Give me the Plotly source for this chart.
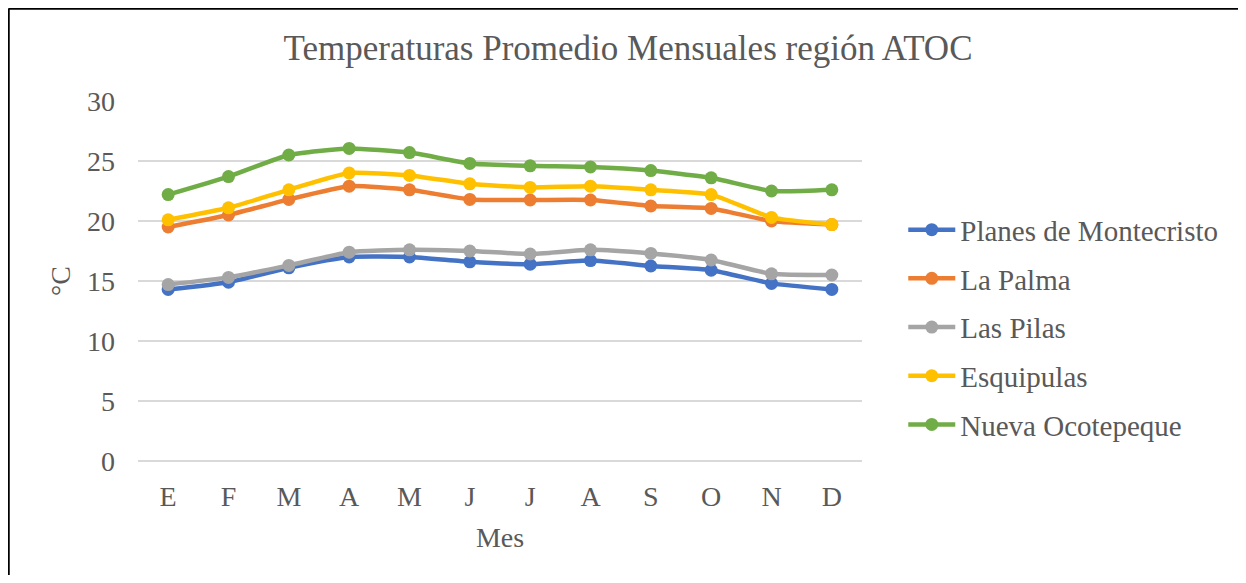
import plotly.graph_objects as go

meses = ["E", "F", "M", "A", "M ", "J", "J ", "A ", "S", "O", "N", "D"]
mes_labels = ["E", "F", "M", "A", "M", "J", "J", "A", "S", "O", "N", "D"]

planes_montecristo = [14.3, 14.9, 16.1, 17.0, 17.0, 16.6, 16.4, 16.7, 16.25, 15.9, 14.8, 14.3]
la_palma = [19.5, 20.5, 21.8, 22.9, 22.6, 21.8, 21.75, 21.75, 21.25, 21.05, 20.0, 19.7]
las_pilas = [14.7, 15.3, 16.3, 17.4, 17.6, 17.5, 17.25, 17.6, 17.3, 16.75, 15.6, 15.5]
esquipulas = [20.1, 21.1, 22.6, 24.0, 23.8, 23.1, 22.8, 22.9, 22.6, 22.2, 20.3, 19.7]
nueva_ocotepeque = [22.2, 23.7, 25.5, 26.05, 25.7, 24.8, 24.6, 24.5, 24.2, 23.6, 22.5, 22.6]

series = [
    ("Planes de Montecristo", planes_montecristo, "#4472C4"),
    ("La Palma", la_palma, "#ED7D31"),
    ("Las Pilas", las_pilas, "#A5A5A5"),
    ("Esquipulas", esquipulas, "#FFC000"),
    ("Nueva Ocotepeque", nueva_ocotepeque, "#70AD47"),
]

fig = go.Figure()
for i, (name, vals, color) in enumerate(series):
    fig.add_trace(
        go.Scatter(
            x=meses,
            y=vals,
            name=name,
            mode="lines+markers",
            line=dict(color=color, width=4.5, shape="spline", smoothing=0.5),
            marker=dict(size=13, color=color),
            legendgroup=f"g{i}",
        )
    )

font_main = "Liberation Serif, Times New Roman, serif"
gray = "#595959"

# page body has an 8px margin, so the figure is shifted by 8px;
# keep it small enough that no scrollbars show up
x_left = (0.5 - 130) / 724
y_top = 1 + (93 - 0.5) / 360
frame = dict(color="black", width=2.5)

fig.update_layout(
    width=1230,
    height=567,
    paper_bgcolor="white",
    plot_bgcolor="white",
    margin=dict(l=130, r=376, t=93, b=114),
    font=dict(family=font_main, color=gray, size=28),
    title=dict(
        text="Temperaturas Promedio Mensuales región ATOC",
        x=620 / 1230,
        xanchor="center",
        y=1 - 40 / 567,
        yanchor="middle",
        font=dict(size=35, color=gray, family=font_main),
    ),
    showlegend=True,
    legend=dict(
        x=1.057,
        xanchor="left",
        y=0.713,
        yanchor="top",
        font=dict(size=29, color=gray),
        tracegroupgap=8,
        itemwidth=47,
    ),
    shapes=[
        dict(type="line", xref="paper", yref="paper",
             x0=x_left, x1=1.7, y0=y_top, y1=y_top, line=frame),
        dict(type="line", xref="paper", yref="paper",
             x0=x_left, x1=x_left, y0=-0.6, y1=y_top, line=frame),
    ],
)

fig.update_xaxes(
    type="category",
    tickvals=meses,
    ticktext=mes_labels,
    range=[-0.5, 11.5],
    showgrid=False,
    showline=False,
    zeroline=False,
    ticks="",
    ticklabelstandoff=16,
    tickfont=dict(size=28, color=gray),
    title=dict(text="Mes", font=dict(size=28, color=gray), standoff=16),
)

fig.update_yaxes(
    range=[0, 30],
    tickvals=[0, 5, 10, 15, 20, 25, 30],
    showgrid=True,
    gridcolor="#D9D9D9",
    gridwidth=1.5,
    zeroline=True,
    zerolinecolor="#D9D9D9",
    zerolinewidth=1.5,
    showline=False,
    ticks="",
    ticklabelstandoff=22,
    tickfont=dict(size=28, color=gray),
    title=dict(text="°C", font=dict(size=28, color=gray), standoff=8),
)

fig.write_html("out.html")
